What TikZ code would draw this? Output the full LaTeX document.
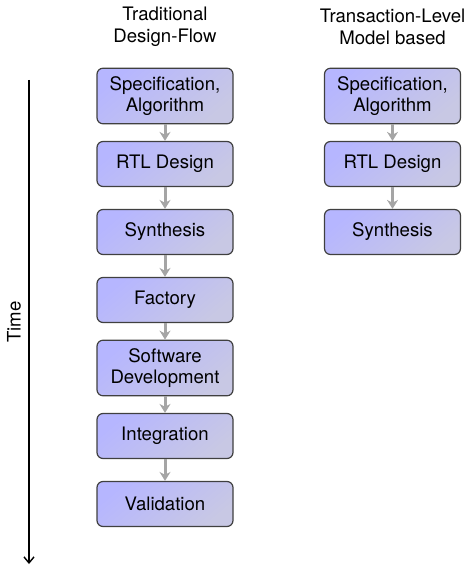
\documentclass[tikz,border=0pt]{standalone}
\usepackage{fontspec}
\setmainfont{TeX Gyre Heros}
\usetikzlibrary{arrows.meta, positioning}

\definecolor{boxlight}{RGB}{182,182,255}
\definecolor{boxdark}{RGB}{200,200,228}
\definecolor{flowgray}{RGB}{165,165,165}

\begin{document}
\begin{tikzpicture}[
node distance=34pt,
on grid,
font=\fontsize{9.3pt}{10.8pt}\selectfont,
stage/.style={rectangle, draw=black!75, line width=0.6pt, rounded corners=3pt,
  top color=boxlight, bottom color=boxdark, shading angle=40,
  minimum width=68pt, minimum height=22.5pt, inner ysep=4pt, align=center},
title/.style={align=center},
flow/.style={draw=flowgray, line width=1.5pt, -{Stealth[length=4.5pt, width=5.5pt]}},
timeline/.style={line width=0.7pt, -{Straight Barb[length=3pt, width=5pt]}}
]
\useasboundingbox (0,0) rectangle (234.5pt,-283pt);

% traditional flow
\node[stage] (spec) at (82.5pt,-48pt) {Specification,\\Algorithm};
\node[stage, below=of spec] (rtl) {RTL Design};
\node[stage, below=of rtl] (synth) {Synthesis};
\node[stage, below=of synth] (fab) {Factory};
\node[stage, below=of fab] (sw) {Software\\Development};
\node[stage, below=of sw] (integ) {Integration};
\node[stage, below=of integ] (valid) {Validation};
\node[title, above=34.5pt of spec] (tradtitle) {Traditional\\Design-Flow};

% transaction-level flow
\node[stage, right=113.75pt of spec] (tspec) {Specification,\\Algorithm};
\node[stage, below=of tspec] (trtl) {RTL Design};
\node[stage, below=of trtl] (tsynth) {Synthesis};
\node[title, above=34.5pt of tspec] (tlmtitle) {Transaction-Level\\Model based};

% time axis
\coordinate (tstart) at (14.5pt,-40pt);
\coordinate (tend) at (14.5pt,-282pt);
\draw[timeline] (tstart) -- (tend);
\node[rotate=90] (time) at (7pt,-161pt) {Time};

\draw[flow] (spec) -- (rtl);
\draw[flow] (rtl) -- (synth);
\draw[flow] (synth) -- (fab);
\draw[flow] (fab) -- (sw);
\draw[flow] (sw) -- (integ);
\draw[flow] (integ) -- (valid);

\draw[flow] (tspec) -- (trtl);
\draw[flow] (trtl) -- (tsynth);

\end{tikzpicture}
\end{document}
